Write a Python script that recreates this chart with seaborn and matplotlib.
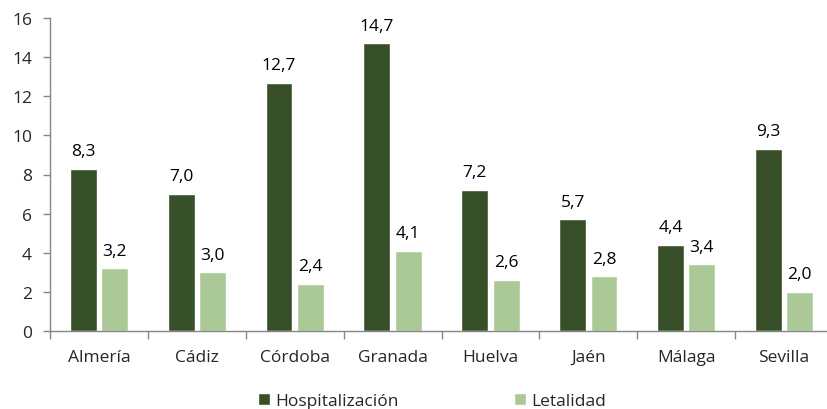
import matplotlib
matplotlib.use("Agg")
import matplotlib.pyplot as plt
import pandas as pd
import seaborn as sns

provincias = ['Almería', 'Cádiz', 'Córdoba', 'Granada', 'Huelva', 'Jaén', 'Málaga', 'Sevilla']
hospitalizacion = [8.3, 7.0, 12.7, 14.7, 7.2, 5.7, 4.4, 9.3]
letalidad = [3.2, 3.0, 2.4, 4.1, 2.6, 2.8, 3.4, 2.0]
series = ['Hospitalización', 'Letalidad']
colores = ['#375623', '#A9D18E']

df = pd.DataFrame({
    'provincia': provincias * 2,
    'valor': hospitalizacion + letalidad,
    'serie': [series[0]] * len(provincias) + [series[1]] * len(provincias),
})

sns.set_style('white')
plt.rcParams['font.family'] = ['Open Sans', 'DejaVu Sans']
fs = 12.5

fig = plt.figure(figsize=(8.27, 4.10), dpi=100)
ax = fig.add_axes([50 / 827, 1 - 332 / 410, 783 / 827, 313 / 410])

sns.barplot(data=df, x='provincia', y='valor', hue='serie', palette=colores,
            width=0.643, gap=0.145, ax=ax, legend=True)

for cont in ax.containers:
    etiquetas = [f'{b.get_height():.1f}'.replace('.', ',') for b in cont]
    ax.bar_label(cont, labels=etiquetas, padding=7, fontsize=fs, color='#000000')

ax.set_ylim(0, 16)
ax.set_xlim(-0.5, 7.5)
ax.set_yticks(range(0, 17, 2))
ax.set_xlabel('')
ax.set_ylabel('')

ax.set_xticks([i - 0.5 for i in range(len(provincias) + 1)], minor=True)
ax.tick_params(axis='x', which='major', length=0, pad=13, labelsize=fs)
ax.tick_params(axis='x', which='minor', length=6, width=1, color='#868686', direction='out')
ax.tick_params(axis='y', length=5, width=1, color='#868686', direction='out', labelsize=fs, pad=8)
ax.xaxis.set_ticks_position('bottom')
ax.yaxis.set_ticks_position('left')

for s in ['top', 'right']:
    ax.spines[s].set_visible(False)
for s in ['left', 'bottom']:
    ax.spines[s].set_color('#868686')
    ax.spines[s].set_linewidth(1)

ax.legend(loc='center', bbox_to_anchor=(432 / 827, 8 / 410), bbox_transform=fig.transFigure,
          ncol=2, frameon=False, fontsize=fs, handlelength=0.7, handleheight=0.7,
          handletextpad=0.3, columnspacing=6.6, borderpad=0.2)

fig.savefig('out.png', dpi=100)
